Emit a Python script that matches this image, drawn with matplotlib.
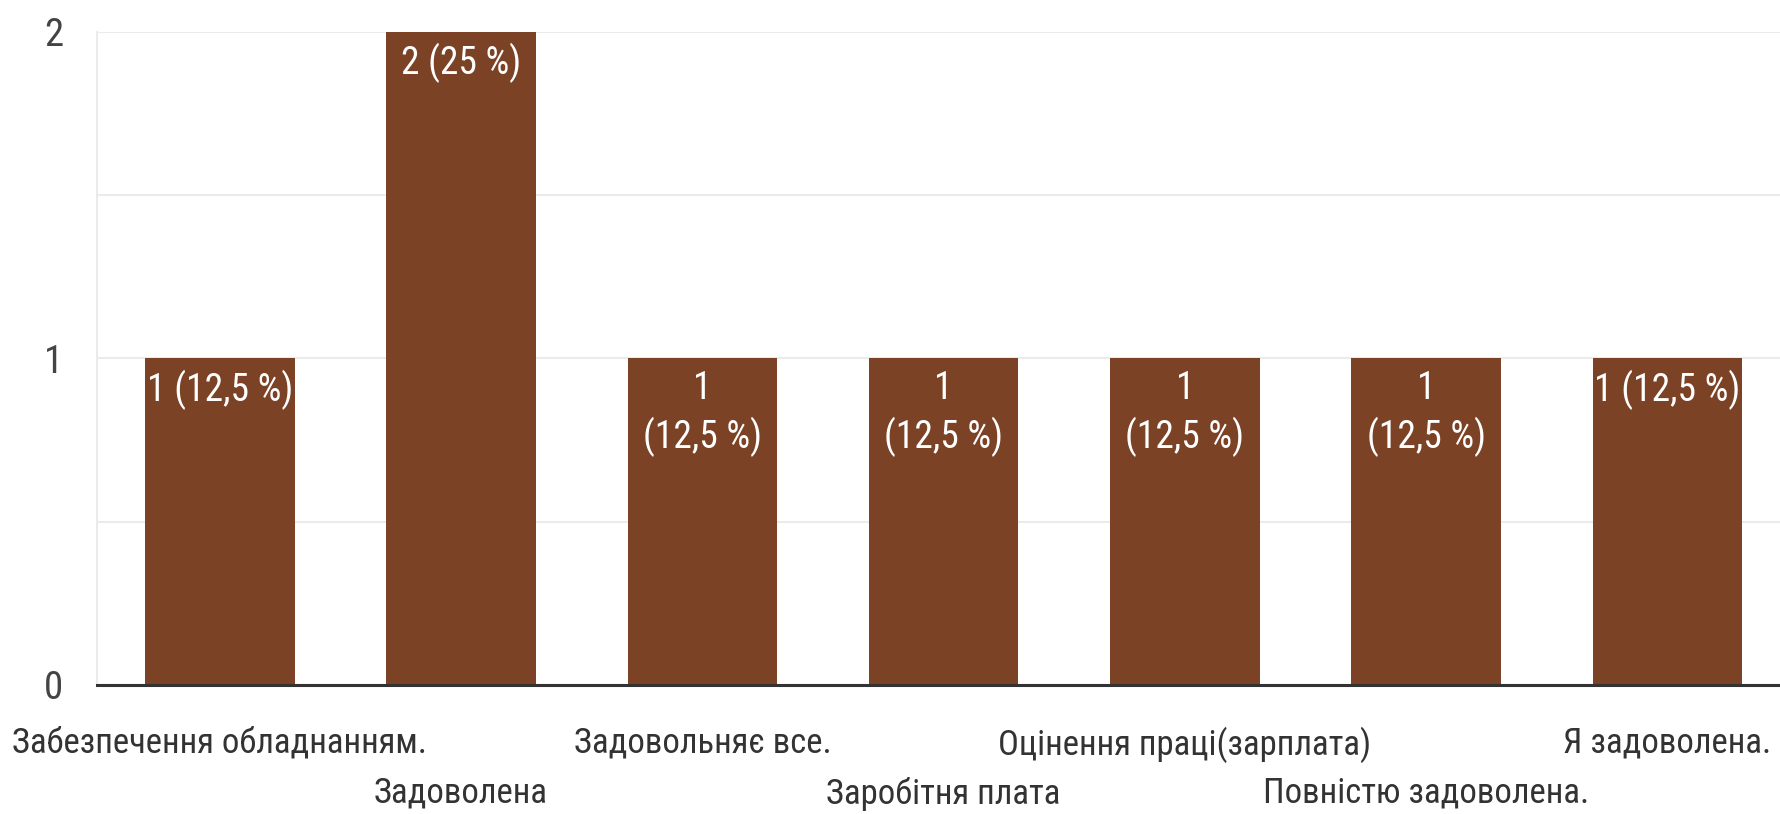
import matplotlib.pyplot as plt
import numpy as np

# відповіді та кількість
categories = ['Забезпечення обладнанням.', 'Задоволена', 'Задовольняє все.',
              'Заробітня плата', 'Оцінення праці(зарплата)', 'Повністю задоволена.',
              'Я задоволена.']
counts = [1, 2, 1, 1, 1, 1, 1]
bar_labels = ['1 (12,5 %)', '2 (25 %)', '1\n(12,5 %)', '1\n(12,5 %)',
              '1\n(12,5 %)', '1\n(12,5 %)', '1 (12,5 %)']

plt.rcParams['font.family'] = ['Roboto Condensed', 'DejaVu Sans']

fig = plt.figure(figsize=(17.81, 8.14), dpi=100)
ax = fig.add_axes([0.0543, 0.1585, 0.9457, 0.8022])

x = np.arange(len(categories))
bars = ax.bar(x, counts, width=0.62, color='#7b4226', zorder=3)

# підписи всередині стовпців
for xi, v, lbl in zip(x, counts, bar_labels):
    ax.annotate(lbl, (xi, v), xytext=(0, -8), textcoords='offset points',
                ha='center', va='top', color='white', fontsize=27,
                linespacing=1.32, zorder=4)

ax.set_xlim(-0.51, 6.47)
ax.set_ylim(0, 2)
ax.set_yticks([0, 1, 2])
ax.set_yticks([0.5, 1.5], minor=True)
ax.grid(axis='y', which='both', color='#ebebeb', lw=1.5, zorder=0)

# підписи осі x у два ряди
ax.set_xticks(x)
ax.set_xticklabels(categories, fontsize=25, color='#333333')
ax.tick_params(axis='x', length=0, pad=30)
for i, t in enumerate(ax.xaxis.get_major_ticks()):
    if i % 2 == 1:
        t.set_pad(66)
ax.tick_params(axis='y', which='both', length=0, pad=24, labelsize=28, labelcolor='#444444')

for s in ['top', 'right']:
    ax.spines[s].set_visible(False)
ax.spines['left'].set_color('#ebebeb')
ax.spines['left'].set_linewidth(1.5)
ax.spines['bottom'].set_color('#333333')
ax.spines['bottom'].set_linewidth(2.2)
ax.spines['bottom'].set_zorder(5)

fig.savefig('out.png', dpi=100)
